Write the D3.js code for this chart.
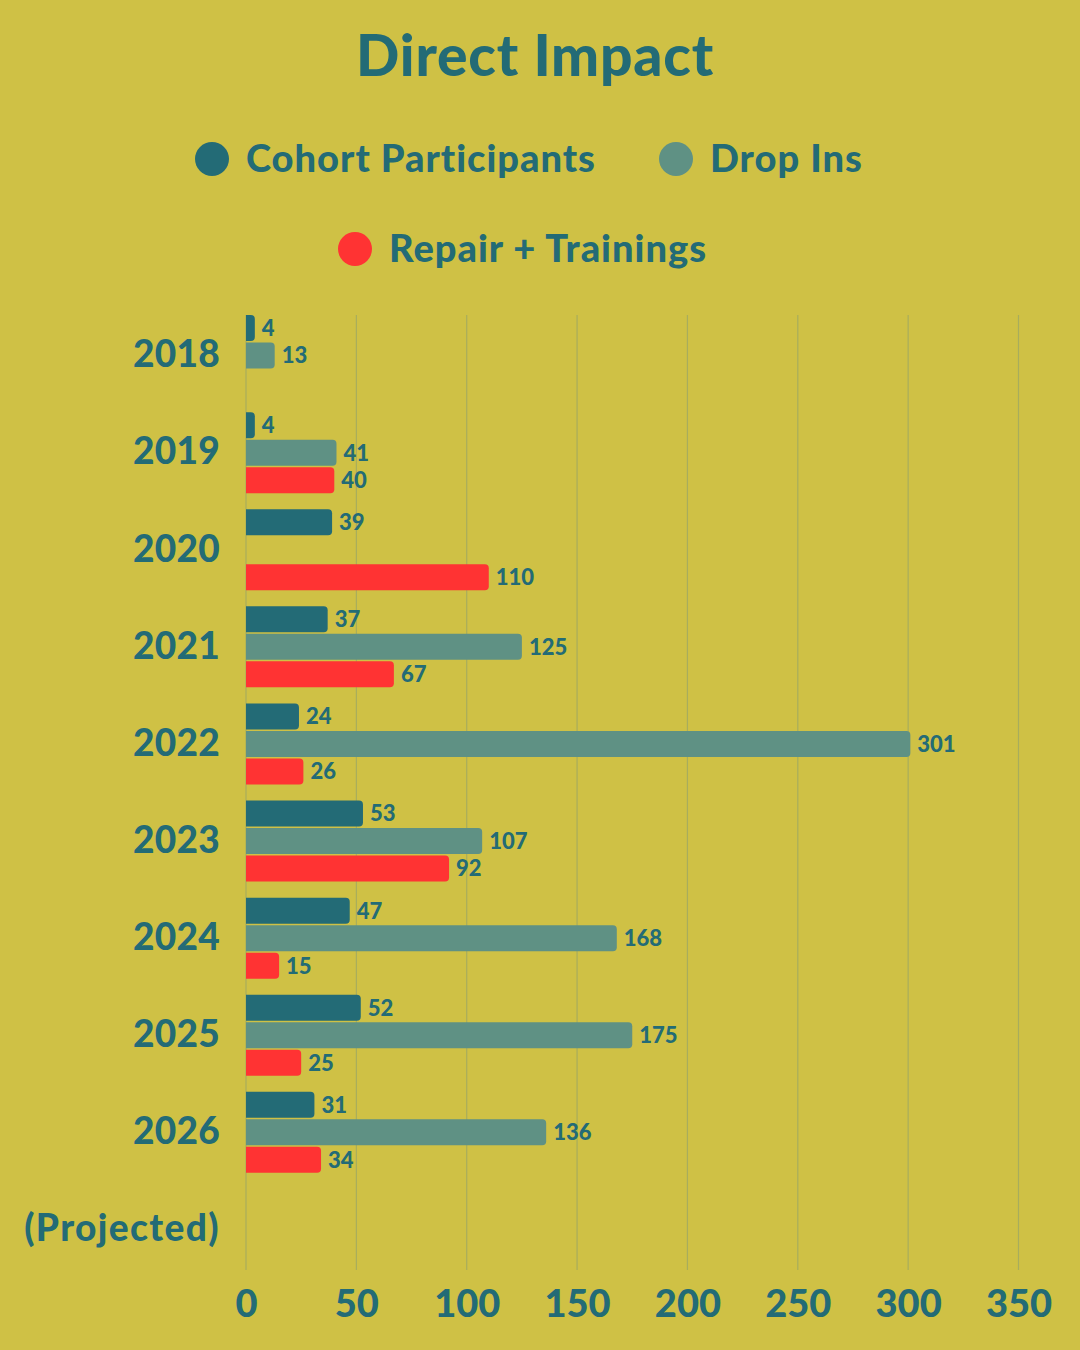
<!DOCTYPE html>
<html>
<head>
<meta charset="utf-8">
<script src="https://cdn.jsdelivr.net/npm/d3@7"></script>
<style>
  html, body { margin: 0; padding: 0; background: #cfc145; }
  svg { display: block; font-family: Lato, "Open Sans", sans-serif; }
</style>
</head>
<body>
<div id="chart"></div>
<script>
const years = ['2018', '2019', '2020', '2021', '2022', '2023', '2024', '2025', '2026', '(Projected)']
const seriesNames = ['Cohort Participants', 'Drop Ins', 'Repair + Trainings']
const cohort = [4, 4, 39, 37, 24, 53, 47, 52, 31, null]
const dropIns = [13, 41, null, 125, 301, 107, 168, 175, 136, null]
const repair = [null, 40, 110, 67, 26, 92, 15, 25, 34, null]
const xTicks = [0, 50, 100, 150, 200, 250, 300, 350]

const width = 1080, height = 1350
const ink = '#236b76'
const colors = d3.scaleOrdinal().domain(seriesNames).range(['#236b76', '#5f9184', '#ff3333'])

let values = [cohort, dropIns, repair]
let rows = []
years.forEach((yr, i) => {
  seriesNames.forEach((s, j) => {
    if (values[j][i] != null) rows.push({ year: yr, series: s, value: values[j][i] })
  })
})

let x = d3.scaleLinear().domain([0, 350]).range([246, 1018.5])
let y = d3.scaleBand().domain(years).range([307, 1278]).paddingInner(0.166).paddingOuter(0.083)
let ySub = d3.scaleBand().domain(seriesNames).range([0, y.bandwidth()]).paddingInner(0.055)

let svg = d3.select('#chart').append('svg')
  .attr('width', width)
  .attr('height', height)

svg.append('rect').attr('width', width).attr('height', height).attr('fill', '#cfc145')

// title
svg.append('text')
  .attr('x', 535).attr('y', 76)
  .attr('text-anchor', 'middle')
  .attr('fill', ink)
  .style('font-weight', 900)
  .style('font-size', '57px')
  .style('letter-spacing', '0.8px')
  .text('Direct Impact')

// legend
let legendPos = [[212, 159], [676, 159], [355, 249]]
let lg = svg.append('g').selectAll('g')
  .data(seriesNames)
  .enter().append('g')
    .attr('transform', (d, i) => `translate(${legendPos[i][0]},${legendPos[i][1]})`)
lg.append('circle').attr('r', 17).attr('fill', d => colors(d))
lg.append('text')
  .attr('x', 34).attr('dy', '0.35em')
  .attr('fill', ink)
  .style('font-weight', 900)
  .style('font-size', '38px')
  .style('letter-spacing', '1px')
  .text(d => d)

// vertical gridlines
svg.append('g')
  .selectAll('line')
  .data(xTicks)
  .enter().append('line')
    .attr('x1', d => x(d)).attr('x2', d => x(d))
    .attr('y1', 315).attr('y2', 1270)
    .attr('stroke', '#a8ad5c')
    .attr('stroke-width', 1.2)

// x axis labels
let xAxis = d3.axisBottom(x).tickValues(xTicks).tickSize(0).tickPadding(0)
svg.append('g')
  .attr('transform', 'translate(0,1290)')
  .call(xAxis)
  .call(g => g.select('.domain').remove())
  .call(g => g.selectAll('text')
    .attr('fill', ink)
    .attr('dy', '0.71em')
    .style('font-family', 'Lato, sans-serif')
    .style('font-weight', 900)
    .style('font-size', '38px'))

// year labels
let yAxis = d3.axisLeft(y).tickSize(0).tickPadding(26)
svg.append('g')
  .attr('transform', `translate(${x(0)},0)`)
  .call(yAxis)
  .call(g => g.select('.domain').remove())
  .call(g => g.selectAll('text')
    .attr('fill', ink)
    .style('font-family', 'Lato, sans-serif')
    .style('font-weight', 900)
    .style('font-size', '37px')
    .style('letter-spacing', d => d.startsWith('(') ? '1.4px' : '0.3px'))

// bar with rounded right end
function barPath(x0, y0, w, h, r) {
  r = Math.min(r, w / 2, h / 2)
  return `M${x0},${y0}H${x0 + w - r}Q${x0 + w},${y0} ${x0 + w},${y0 + r}` +
    `V${y0 + h - r}Q${x0 + w},${y0 + h} ${x0 + w - r},${y0 + h}H${x0}Z`
}

let bars = svg.append('g')
bars.selectAll('path')
  .data(rows)
  .enter().append('path')
    .attr('fill', d => colors(d.series))
    .attr('d', d => barPath(x(0), y(d.year) + ySub(d.series), x(d.value) - x(0), ySub.bandwidth(), 4))

bars.selectAll('text')
  .data(rows)
  .enter().append('text')
    .attr('x', d => x(d.value) + 7)
    .attr('y', d => y(d.year) + ySub(d.series) + ySub.bandwidth() / 2)
    .attr('dy', '0.36em')
    .attr('fill', ink)
    .style('font-weight', 900)
    .style('font-size', '22px')
    .text(d => d.value)
</script>
</body>
</html>
